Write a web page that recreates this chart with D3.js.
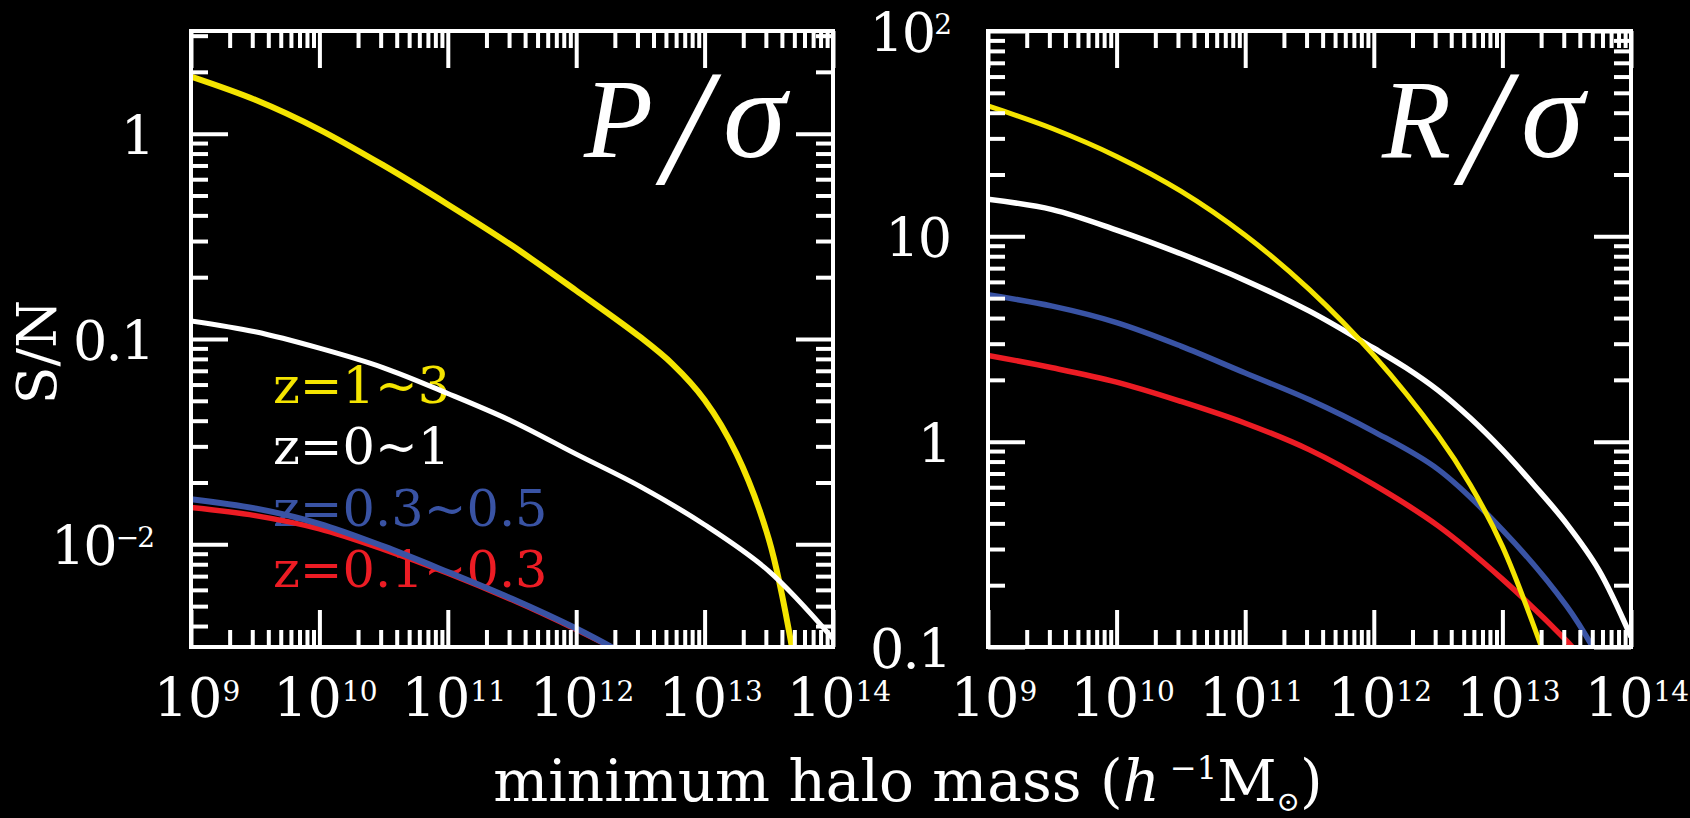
<!DOCTYPE html>
<html><head><meta charset="utf-8">
<script src="https://cdn.jsdelivr.net/npm/d3@7"></script>
<style>
html,body{margin:0;padding:0;background:#000;}
svg{display:block;}
text{fill:#fff;}
</style></head><body>
<svg id="chart" width="1690" height="818"></svg>
<script>
// ---------------- data ----------------
const seriesNames  = ["z=1~3", "z=0~1", "z=0.3~0.5", "z=0.1~0.3"];
const seriesColors = ["#f4e400", "#ffffff", "#3953a4", "#ec1c24"];

const xTickExponents = ["9", "10", "11", "12", "13", "14"];
const xDomain = [1e9, 1e14];

// Panel 1: P / sigma
const pYDomain = [0.003162, 3.162];
const pYTicks  = [1, 0.1, 0.01];
const pYLabelBase = ["1", "0.1", "10"];
const pYLabelSup  = ["", "", "\u22122"];

const pYellowLogM = [9.0, 9.5, 10.0, 10.5, 11.0, 11.5, 12.0, 12.5, 12.75, 13.0, 13.25, 13.5, 13.68];
const pYellowSN   = [1.897, 1.462, 1.047, 0.700, 0.452, 0.285, 0.172, 0.102, 0.0755, 0.0505, 0.0275, 0.0106, 0.00316];
const pWhiteLogM  = [9.0, 9.5, 10.0, 10.5, 11.0, 11.5, 12.0, 12.5, 13.0, 13.5, 14.0];
const pWhiteSN    = [0.1225, 0.1084, 0.0902, 0.0724, 0.0543, 0.0398, 0.0275, 0.0191, 0.01245, 0.00741, 0.00347];
const pBlueLogM   = [9.0, 9.5, 10.0, 10.5, 11.0, 11.5, 12.0, 12.32];
const pBlueSN     = [0.0166, 0.01496, 0.01259, 0.00977, 0.00733, 0.00543, 0.00389, 0.00305];
const pRedLogM    = [9.0, 9.5, 10.0, 10.5, 11.0, 11.5, 12.0, 12.32];
const pRedSN      = [0.0151, 0.0138, 0.01189, 0.00944, 0.00724, 0.00537, 0.00385, 0.00305];

// Panel 2: R / sigma
const rYDomain = [0.1, 100];
const rYTicks  = [100, 10, 1, 0.1];
const rYLabelBase = ["10", "10", "1", "0.1"];
const rYLabelSup  = ["2", "", "", ""];

const rYellowLogM = [9.0, 9.5, 10.0, 10.5, 11.0, 11.5, 12.0, 12.5, 12.75, 13.0, 13.31];
const rYellowSN   = [43.15, 33.5, 24.5, 16.6, 10.12, 5.50, 2.63, 1.072, 0.617, 0.309, 0.0977];
const rWhiteLogM  = [9.0, 9.5, 10.0, 10.5, 11.0, 11.5, 12.0, 12.25, 12.5, 12.75, 13.0, 13.25, 13.5, 13.75, 14.0];
const rWhiteSN    = [15.14, 13.49, 10.72, 8.22, 6.10, 4.32, 2.851, 2.291, 1.778, 1.303, 0.912, 0.610, 0.398, 0.237, 0.112];
const rBlueLogM   = [9.0, 9.5, 10.0, 10.5, 11.0, 11.5, 12.0, 12.5, 13.0, 13.5, 13.72];
const rBlueSN     = [5.19, 4.57, 3.80, 2.92, 2.16, 1.60, 1.12, 0.733, 0.372, 0.158, 0.0955];
const rRedLogM    = [9.0, 9.5, 10.0, 10.5, 11.0, 11.5, 12.0, 12.5, 13.0, 13.5, 13.57];
const rRedSN      = [2.63, 2.29, 1.95, 1.57, 1.23, 0.912, 0.617, 0.389, 0.214, 0.107, 0.0955];

// ---------------- drawing ----------------
const svg = d3.select("#chart");
svg.append("rect").attr("width", 1690).attr("height", 818).attr("fill", "#000");

const FONT = "'DejaVu Serif', 'Liberation Serif', serif";
const yTop = 31, yBottom = 647;

function zip(a, b) { return a.map((v, i) => [Math.pow(10, v), b[i]]); }

const panels = [
  { id: "p", x0: 191, x1: 833, yDomain: pYDomain, yTicks: pYTicks, base: pYLabelBase, sup: pYLabelSup,
    series: [
      { data: zip(pYellowLogM, pYellowSN), color: seriesColors[0], w: 6 },
      { data: zip(pWhiteLogM, pWhiteSN),  color: seriesColors[1], w: 5 },
      { data: zip(pRedLogM, pRedSN),      color: seriesColors[3], w: 5.5 },
      { data: zip(pBlueLogM, pBlueSN),    color: seriesColors[2], w: 6 }
    ],
    big: ["P", "\u03C3"] },
  { id: "r", x0: 988, x1: 1631, yDomain: rYDomain, yTicks: rYTicks, base: rYLabelBase, sup: rYLabelSup,
    series: [
      { data: zip(rWhiteLogM, rWhiteSN),  color: seriesColors[1], w: 5.5 },
      { data: zip(rBlueLogM, rBlueSN),    color: seriesColors[2], w: 5.5 },
      { data: zip(rRedLogM, rRedSN),      color: seriesColors[3], w: 5.5 },
      { data: zip(rYellowLogM, rYellowSN), color: seriesColors[0], w: 5 }
    ],
    big: ["R", "\u03C3"] }
];

panels.forEach((P, pi) => {
  const x = d3.scaleLog().domain(xDomain).range([P.x0, P.x1]);
  const y = d3.scaleLog().domain(P.yDomain).range([yBottom, yTop]);
  const g = svg.append("g");

  // legend (left panel only), drawn beneath curves
  if (pi === 0) {
    const leg = g.append("g").attr("font-family", FONT).attr("font-size", 51);
    seriesNames.forEach((n, i) => {
      leg.append("text").attr("x", 273).attr("y", 403 + i * 61.3)
        .style("fill", seriesColors[i]).text(n);
    });
  }

  // clip
  svg.append("clipPath").attr("id", "clip" + P.id)
    .append("rect").attr("x", P.x0).attr("y", yTop).attr("width", P.x1 - P.x0).attr("height", yBottom - yTop);

  const line = d3.line().x(d => x(d[0])).y(d => y(d[1])).curve(d3.curveCatmullRom.alpha(0.5));
  const lg = g.append("g").attr("clip-path", "url(#clip" + P.id + ")");
  P.series.forEach(s => {
    lg.append("path").attr("d", line(s.data)).attr("fill", "none")
      .attr("stroke", s.color).attr("stroke-width", s.w).attr("stroke-linejoin", "round");
  });

  // ticks
  const xMaj = xTickExponents.map(e => Math.pow(10, +e));
  const xMin = x.ticks().filter(v => !xMaj.some(m => Math.abs(m - v) / m < 1e-6));
  const yAll = y.ticks();
  const yMin = yAll.filter(v => !P.yTicks.some(m => Math.abs(m - v) / m < 1e-6));
  const MAJ = 37, MIN = 17;

  function styleAxis(sel) {
    sel.select(".domain").remove();
    sel.selectAll("line").attr("stroke", "#fff").attr("stroke-width", 4);
    sel.selectAll("text").remove();
  }
  [[xMaj, MAJ], [xMin, MIN]].forEach(([vals, len]) => {
    g.append("g").attr("transform", `translate(0,${yBottom})`)
      .call(d3.axisBottom(x).tickValues(vals).tickSize(-len).tickSizeOuter(0).tickFormat(""))
      .call(styleAxis);
    g.append("g").attr("transform", `translate(0,${yTop})`)
      .call(d3.axisTop(x).tickValues(vals).tickSize(-len).tickSizeOuter(0).tickFormat(""))
      .call(styleAxis);
  });
  [[P.yTicks, MAJ], [yMin, MIN]].forEach(([vals, len]) => {
    g.append("g").attr("transform", `translate(${P.x0},0)`)
      .call(d3.axisLeft(y).tickValues(vals).tickSize(-len).tickSizeOuter(0).tickFormat(""))
      .call(styleAxis);
    g.append("g").attr("transform", `translate(${P.x1},0)`)
      .call(d3.axisRight(y).tickValues(vals).tickSize(-len).tickSizeOuter(0).tickFormat(""))
      .call(styleAxis);
  });

  // frame
  g.append("rect").attr("x", P.x0).attr("y", yTop).attr("width", P.x1 - P.x0).attr("height", yBottom - yTop)
    .attr("fill", "none").attr("stroke", "#fff").attr("stroke-width", 4);

  // x tick labels
  xTickExponents.forEach(e => {
    const t = g.append("text").attr("x", x(Math.pow(10, +e)) + 6).attr("y", 717)
      .attr("text-anchor", "middle").attr("font-family", FONT).attr("font-size", 54);
    t.append("tspan").text("10");
    t.append("tspan").attr("font-size", 28).attr("dy", -16).text(e);
  });

  // y tick labels
  P.yTicks.forEach((v, i) => {
    const t = g.append("text").attr("x", P.x0 - 38).attr("y", y(v) + 21)
      .attr("text-anchor", "end").attr("font-family", FONT).attr("font-size", 54)
      .attr("letter-spacing", -2);
    t.append("tspan").text(P.base[i]);
    if (P.sup[i]) t.append("tspan").attr("font-size", 28).attr("dy", -18).text(P.sup[i]);
  });

  // big label
  const bt = g.append("text").attr("x", P.x1 - 47).attr("y", 157).attr("text-anchor", "end")
    .attr("font-family", "'Liberation Serif', serif").attr("font-style", "italic").attr("font-size", 113);
  bt.append("tspan").text(P.big[0]);
  bt.append("tspan").attr("font-size", 165).attr("dx", 10).attr("dy", 26).text("/");
  bt.append("tspan").attr("font-size", 128).attr("dx", 14).attr("dy", -26).text(P.big[1]);
});

// axis titles
svg.append("text").attr("transform", "translate(56,352) rotate(-90)")
  .attr("text-anchor", "middle").attr("font-family", FONT).attr("font-size", 55).text("S/N");

const xt = svg.append("text").attr("x", 908).attr("y", 801).attr("text-anchor", "middle")
  .attr("font-family", FONT).attr("font-size", 58);
xt.append("tspan").text("minimum halo mass (");
xt.append("tspan").attr("font-style", "italic").text("h");
xt.append("tspan").attr("font-size", 32).attr("dy", -22).text(" \u22121");
xt.append("tspan").attr("dy", 22).text("M");
xt.append("tspan").attr("font-size", 28).attr("dy", 10).text("\u2299");
xt.append("tspan").attr("dy", -10).text(")");
</script>
</body></html>
